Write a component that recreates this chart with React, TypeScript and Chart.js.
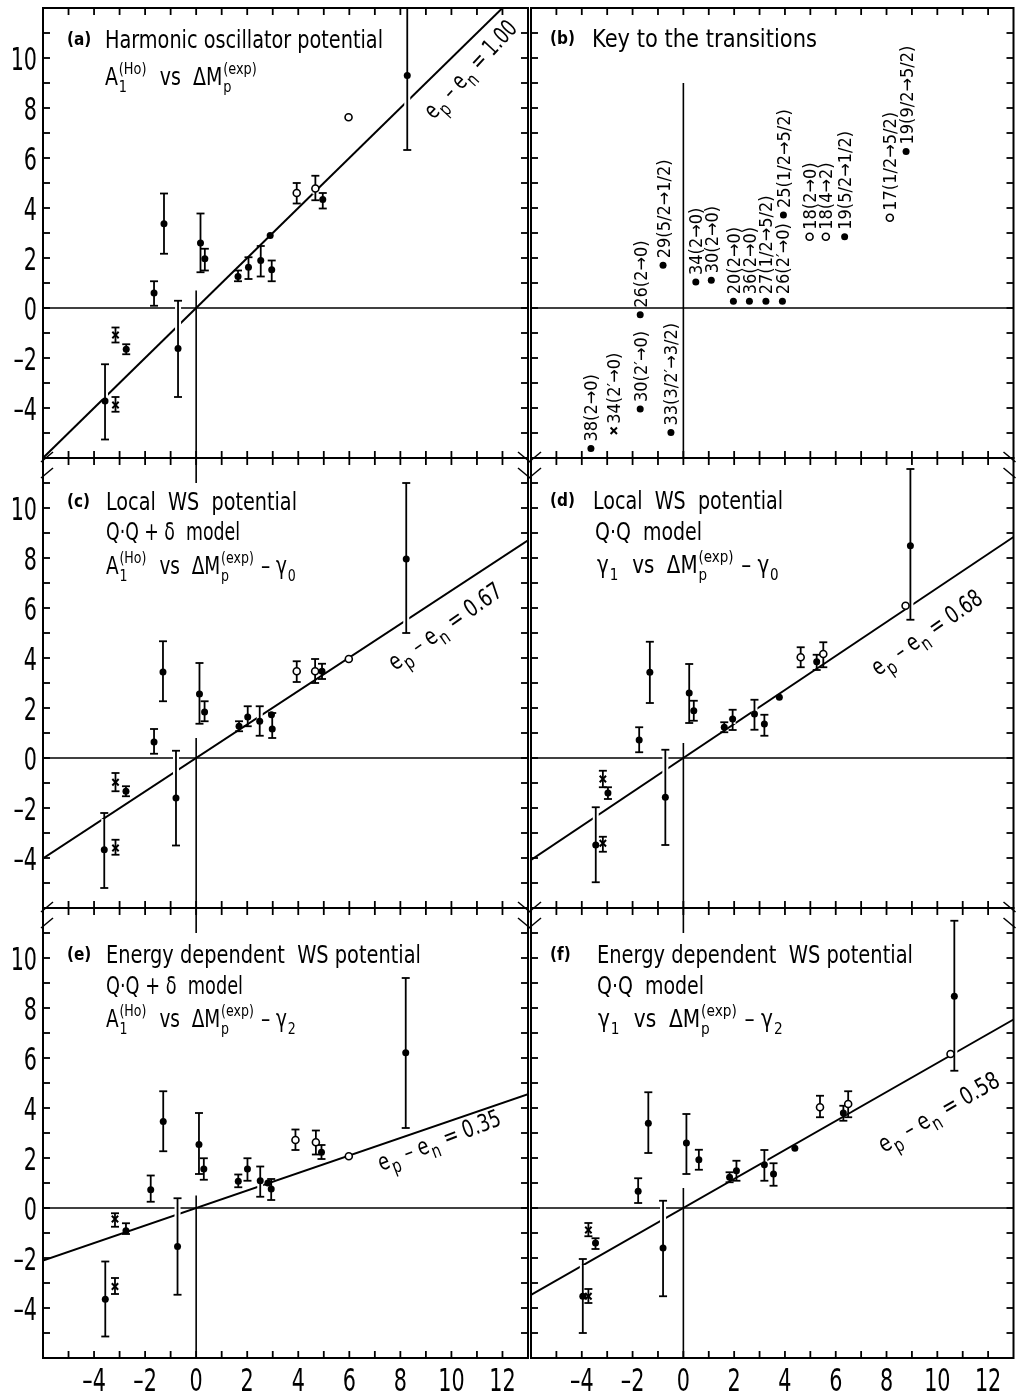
import React, { useEffect, useRef } from "react";
import { Chart, registerables } from "chart.js";

Chart.register(...registerables);

const FONT = "'DejaVu Sans Condensed', 'DejaVu Sans', 'Liberation Sans', sans-serif";

// ---- axes ----
const X_MIN = -6;
const X_MAX = 13;
const Y_MIN = -6;
const Y_MAX = 12;
const xTickValues = [-4, -2, 0, 2, 4, 6, 8, 10, 12];
const xTickLabels = ["–4", "–2", "0", "2", "4", "6", "8", "10", "12"];
const yTickValues = [-4, -2, 0, 2, 4, 6, 8, 10];
const yTickLabels = ["–4", "–2", "0", "2", "4", "6", "8", "10"];

// ---- marker kind of each transition (same order in every data panel) ----
const markerKinds = ["dot", "cross", "cross", "dot", "dot", "dot", "dot", "dot", "dot", "dot", "dot", "dot", "dot", "dot", "open", "open", "dot", "open", "dot"];

// ---- panel (a) ----
const aX = [-3.57, -3.16, -3.16, -2.74, -1.65, -1.26, -0.71, 0.17, 0.34, 1.64, 2.05, 2.53, 2.9, 2.96, 3.94, 4.67, 4.96, 5.97, 8.27];
const aY = [-3.72, -1.08, -3.88, -1.65, 0.6, 3.37, -1.62, 2.6, 1.97, 1.26, 1.63, 1.9, 2.9, 1.53, 4.6, 4.78, 4.34, 7.63, 9.3];
const aLo = [-5.26, -1.38, -4.15, -1.85, 0.09, 2.17, -3.56, 1.43, 1.5, 1.07, 1.16, 1.26, null, 1.07, 4.18, 4.31, 3.98, null, 6.32];
const aHi = [-2.25, -0.78, -3.56, -1.45, 1.07, 4.58, 0.29, 3.78, 2.37, 1.5, 2.03, 2.48, null, 1.9, 5.0, 5.29, 4.6, null, 12.0];

// ---- panel (c) ----
const cX = [-3.6, -3.16, -3.16, -2.75, -1.65, -1.3, -0.79, 0.13, 0.33, 1.68, 2.02, 2.49, 2.95, 2.98, 3.94, 4.66, 4.93, 5.98, 8.23];
const cY = [-3.67, -0.97, -3.6, -1.33, 0.64, 3.44, -1.6, 2.56, 1.84, 1.27, 1.64, 1.47, 1.73, 1.16, 3.47, 3.47, 3.47, 3.96, 7.96];
const cLo = [-5.2, -1.33, -3.87, -1.53, 0.17, 2.27, -3.5, 1.37, 1.47, 1.07, 1.27, 0.89, null, 0.8, 3.04, 3.0, 3.16, null, 5.0];
const cHi = [-2.2, -0.6, -3.27, -1.13, 1.16, 4.67, 0.29, 3.8, 2.27, 1.47, 2.07, 2.07, null, 1.8, 3.87, 3.96, 3.77, null, 11.0];

// ---- panel (d) ----
const dX = [-3.45, -3.17, -3.17, -2.97, -1.74, -1.32, -0.71, 0.23, 0.41, 1.61, 1.94, 2.8, 3.78, 3.19, 4.62, 5.51, 5.25, 8.75, 8.94];
const dY = [-3.48, -0.84, -3.41, -1.4, 0.72, 3.43, -1.57, 2.6, 1.89, 1.23, 1.56, 1.76, 2.43, 1.36, 4.03, 4.16, 3.85, 6.09, 8.49];
const dLo = [-4.97, -1.17, -3.75, -1.64, 0.23, 2.2, -3.48, 1.4, 1.49, 1.03, 1.12, 1.13, null, 0.89, 3.63, 3.63, 3.52, null, 5.53];
const dHi = [-1.97, -0.51, -3.15, -1.17, 1.23, 4.65, 0.33, 3.76, 2.29, 1.43, 1.93, 2.33, null, 1.73, 4.43, 4.63, 4.13, null, 11.56];

// ---- panel (e) ----
const eX = [-3.56, -3.18, -3.18, -2.75, -1.78, -1.29, -0.73, 0.11, 0.3, 1.65, 2.01, 2.51, 2.81, 2.94, 3.89, 4.69, 4.91, 5.98, 8.21];
const eY = [-3.65, -0.44, -3.14, -0.91, 0.73, 3.46, -1.54, 2.54, 1.56, 1.07, 1.56, 1.09, 1.0, 0.76, 2.72, 2.63, 2.23, 2.07, 6.21];
const eLo = [-5.14, -0.75, -3.44, -1.04, 0.25, 2.27, -3.47, 1.36, 1.13, 0.83, 1.09, 0.45, null, 0.32, 2.32, 2.14, 1.96, null, 3.2];
const eHi = [-2.14, -0.21, -2.8, -0.61, 1.3, 4.67, 0.39, 3.8, 1.99, 1.34, 1.99, 1.66, null, 1.16, 3.14, 3.1, 2.52, null, 9.2];

// ---- panel (f) ----
const fX = [-3.96, -3.74, -3.74, -3.46, -1.78, -1.38, -0.8, 0.12, 0.61, 1.82, 2.09, 3.19, 4.39, 3.55, 5.38, 6.49, 6.3, 10.52, 10.67];
const fY = [-3.53, -0.88, -3.53, -1.4, 0.67, 3.39, -1.6, 2.6, 1.93, 1.23, 1.49, 1.73, 2.39, 1.36, 4.03, 4.16, 3.8, 6.16, 8.47];
const fLo = [-5.0, -1.13, -3.8, -1.64, 0.2, 2.2, -3.53, 1.36, 1.53, 1.03, 1.09, 1.09, null, 0.89, 3.63, 3.63, 3.49, null, 5.49];
const fHi = [-2.04, -0.6, -3.24, -1.21, 1.19, 4.63, 0.29, 3.76, 2.33, 1.43, 1.89, 2.32, null, 1.79, 4.49, 4.67, 4.09, null, 11.49];

// ---- fitted lines (e_p - e_n) ----
const fitSlopes = [1.0, 0.67, 0.68, 0.35, 0.58];
const fitTexts = ["1.00", "0.67", "0.68", "0.35", "0.58"];

// ---- panel (b): key to the transitions ----
const keyX = [-3.64, -2.74, -1.7, -1.7, -0.49, -0.8, 0.49, 1.1, 1.97, 2.6, 3.25, 3.9, 3.94, 4.97, 5.61, 6.35, 8.13, 8.77];
const keyY = [-5.62, -4.91, -4.04, -0.27, -4.98, 1.71, 1.04, 1.11, 0.27, 0.27, 0.27, 0.27, 3.72, 2.85, 2.85, 2.85, 3.61, 6.26];
const keyLabels = ["38(2→0)", "34(2′→0)", "30(2′→0)", "26(2→0)", "33(3/2′→3/2)", "29(5/2→1/2)", "34(2→0)", "30(2→0)", "20(2→0)", "36(2→0)", "27(1/2→5/2)", "26(2′→0)", "25(1/2→5/2)", "18(2→0)", "18(4→2)", "19(5/2→1/2)", "17(1/2→5/2)", "19(9/2→5/2)"];
const keyKinds = ["dot", "cross", "dot", "dot", "dot", "dot", "dot", "dot", "dot", "dot", "dot", "dot", "dot", "open", "open", "dot", "open", "dot"];

// ---- rich text ----
type Seg = { t?: string; sub?: string; sup?: string };
const S = (t: string): Seg => ({ t });

function richWidth(ctx: CanvasRenderingContext2D, segs: Seg[], size: number, ss: number) {
  let w = 0;
  for (const s of segs) {
    if (s.t !== undefined) {
      ctx.font = `${size}px ${FONT}`;
      w += ctx.measureText(s.t).width;
    } else {
      ctx.font = `${size * ss}px ${FONT}`;
      const a = s.sub ? ctx.measureText(s.sub).width : 0;
      const b = s.sup ? ctx.measureText(s.sup).width : 0;
      w += Math.max(a, b) + size * 0.1;
    }
  }
  return w;
}

function drawRich(ctx: CanvasRenderingContext2D, segs: Seg[], size: number, x: number, y: number, target?: number, ss = 0.68) {
  const w = richWidth(ctx, segs, size, ss);
  const k = target ? target / w : 1;
  ctx.save();
  ctx.translate(x, y);
  ctx.scale(k, 1);
  ctx.fillStyle = "#000";
  ctx.textAlign = "left";
  ctx.textBaseline = "alphabetic";
  let cx = 0;
  for (const s of segs) {
    if (s.t !== undefined) {
      ctx.font = `${size}px ${FONT}`;
      ctx.fillText(s.t, cx, 0);
      cx += ctx.measureText(s.t).width;
    } else {
      ctx.font = `${size * ss}px ${FONT}`;
      let sw = 0;
      if (s.sub) {
        ctx.fillText(s.sub, cx + size * 0.04, size * 0.3);
        sw = Math.max(sw, ctx.measureText(s.sub).width);
      }
      if (s.sup) {
        ctx.fillText(s.sup, cx + size * 0.04, -size * 0.45);
        sw = Math.max(sw, ctx.measureText(s.sup).width);
      }
      cx += sw + size * 0.1;
    }
  }
  ctx.restore();
}

const fitSeg = (v: string): Seg[] => [S("e"), { sub: "p" }, S(" – e"), { sub: "n" }, S(" = " + v)];
const lineA1Ho: Seg[] = [S("A"), { sub: "1", sup: "(Ho)" }, S("  vs  ΔM"), { sub: "p", sup: "(exp)" }];

// ---- layout ----
const FRAME_L = [43, 531];
const FRAME_R = [528, 1019];
const FRAME_T = [8, 458, 908];
const FRAME_B = [458, 908, 1358];
const W = 1020;
const H = 1395;
const TICK_FONT = 32;
const TICK_SQUEEZE = 0.72;

type Panel = {
  id: string;
  col: number;
  row: number;
  X: number[];
  Y: number[];
  lo?: (number | null)[];
  hi?: (number | null)[];
  kinds: string[];
  fit?: number;
  fitPos?: [number, number];
  fitAngle?: number;
  fitLen?: number;
  keyText?: string[];
  tag: string;
  lines: Seg[][];
  lineX: number[];
  lineBase: number[];
  lineW: number[];
  zeroTop: number;
  topZeroTick: boolean;
};

const PANELS: Panel[] = [
  {
    id: "a", col: 0, row: 0, X: aX, Y: aY, lo: aLo, hi: aHi, kinds: markerKinds,
    fit: 0, fitPos: [9.31, 7.52], fitAngle: -47, fitLen: 124,
    tag: "(a)",
    lines: [[S("Harmonic oscillator potential")], lineA1Ho],
    lineX: [62, 62], lineBase: [40, 77], lineW: [278, 153],
    zeroTop: 0.7, topZeroTick: false,
  },
  {
    id: "b", col: 1, row: 0, X: keyX, Y: keyY, kinds: keyKinds, keyText: keyLabels,
    tag: "(b)",
    lines: [[S("Key to the transitions")]],
    lineX: [61], lineBase: [39], lineW: [225],
    zeroTop: 9, topZeroTick: false,
  },
  {
    id: "c", col: 0, row: 1, X: cX, Y: cY, lo: cLo, hi: cHi, kinds: markerKinds,
    fit: 1, fitPos: [7.79, 3.48], fitAngle: -35, fitLen: 133,
    tag: "(c)",
    lines: [[S("Local  WS  potential")], [S("Q·Q + δ  model")], [...lineA1Ho, S(" – γ"), { sub: "0" }]],
    lineX: [63, 63, 63], lineBase: [52, 82, 116], lineW: [191, 134, 191],
    zeroTop: 0.8, topZeroTick: true,
  },
  {
    id: "d", col: 1, row: 1, X: dX, Y: dY, lo: dLo, hi: dHi, kinds: markerKinds,
    fit: 2, fitPos: [7.66, 3.27], fitAngle: -35, fitLen: 130,
    tag: "(d)",
    lines: [[S("Local  WS  potential")], [S("Q·Q  model")], [S("γ"), { sub: "1" }, S("  vs  ΔM"), { sub: "p", sup: "(exp)" }, S(" – γ"), { sub: "0" }]],
    lineX: [62, 64, 66], lineBase: [51, 82, 115], lineW: [190, 107, 183],
    zeroTop: 0.6, topZeroTick: false,
  },
  {
    id: "e", col: 0, row: 2, X: eX, Y: eY, lo: eLo, hi: eHi, kinds: markerKinds,
    fit: 3, fitPos: [7.25, 1.48], fitAngle: -21, fitLen: 130,
    tag: "(e)",
    lines: [[S("Energy dependent  WS potential")], [S("Q·Q + δ  model")], [...lineA1Ho, S(" – γ"), { sub: "2" }]],
    lineX: [63, 63, 63], lineBase: [55, 86, 119], lineW: [315, 137, 191],
    zeroTop: 0.5, topZeroTick: true,
  },
  {
    id: "f", col: 1, row: 2, X: fX, Y: fY, lo: fLo, hi: fHi, kinds: markerKinds,
    fit: 4, fitPos: [7.89, 2.2], fitAngle: -30, fitLen: 136,
    tag: "(f)",
    lines: [[S("Energy dependent  WS potential")], [S("Q·Q  model")], [S("γ"), { sub: "1" }, S("  vs  ΔM"), { sub: "p", sup: "(exp)" }, S(" – γ"), { sub: "2" }]],
    lineX: [66, 66, 67], lineBase: [55, 86, 119], lineW: [316, 107, 186],
    zeroTop: 0.8, topZeroTick: true,
  },
];

function makeDecor(p: Panel, lineIndex: number) {
  const seg = (ctx: CanvasRenderingContext2D, x1: number, y1: number, x2: number, y2: number) => {
    ctx.beginPath();
    ctx.moveTo(x1, y1);
    ctx.lineTo(x2, y2);
    ctx.stroke();
  };
  const drawBars = (chart: any) => {
    if (!p.lo || !p.hi) return;
    const { ctx } = chart;
    const xs = chart.scales.x;
    const ys = chart.scales.y;
    ctx.save();
    for (const pass of [0, 1]) {
      ctx.strokeStyle = pass === 0 ? "#fff" : "#000";
      ctx.lineWidth = pass === 0 ? 6 : 1.8;
      for (let i = 0; i < p.X.length; i++) {
        const lo = p.lo[i];
        const hi = p.hi[i];
        if (lo == null || hi == null) continue;
        const px = xs.getPixelForValue(p.X[i]);
        const pl = ys.getPixelForValue(Math.max(lo, Y_MIN));
        const ph = ys.getPixelForValue(Math.min(hi, Y_MAX));
        if (pass === 0) {
          seg(ctx, px, pl - 6, px, ph + 6);
        } else {
          seg(ctx, px, pl, px, ph);
          seg(ctx, px - 4, pl, px + 4, pl);
          if (hi < Y_MAX) seg(ctx, px - 4, ph, px + 4, ph);
        }
      }
    }
    ctx.restore();
  };
  return {
    id: "decor" + p.id,
    beforeDatasetsDraw(chart: any) {
      const { ctx, chartArea: ca } = chart;
      const xs = chart.scales.x;
      const ys = chart.scales.y;
      ctx.save();
      ctx.strokeStyle = "#000";
      ctx.lineWidth = 1.6;
      const x0 = xs.getPixelForValue(0);
      const y0 = ys.getPixelForValue(0);
      seg(ctx, ca.left, y0, ca.right, y0);
      seg(ctx, x0, ca.bottom, x0, ys.getPixelForValue(p.zeroTop));
      if (p.topZeroTick) seg(ctx, x0, ca.top, x0, ys.getPixelForValue(Y_MAX - 1));
      ctx.restore();
      if (lineIndex < 0) drawBars(chart);
    },
    afterDatasetDraw(chart: any, args: any) {
      if (args.index === lineIndex) drawBars(chart);
    },
    afterDatasetsDraw(chart: any) {
      const { ctx, chartArea: ca } = chart;
      const xs = chart.scales.x;
      const ys = chart.scales.y;
      ctx.save();
      ctx.strokeStyle = "#000";
      ctx.lineWidth = 2;
      ctx.strokeRect(ca.left, ca.top, ca.right - ca.left, ca.bottom - ca.top);
      ctx.lineWidth = 1.8;
      for (let v = X_MIN + 1; v < X_MAX; v++) {
        const px = xs.getPixelForValue(v);
        seg(ctx, px, ca.bottom, px, ca.bottom - 7);
        seg(ctx, px, ca.top, px, ca.top + 7);
      }
      for (let v = Y_MIN + 1; v < Y_MAX; v++) {
        const py = ys.getPixelForValue(v);
        seg(ctx, ca.left, py, ca.left + 7, py);
        seg(ctx, ca.right, py, ca.right - 7, py);
      }
      // break marks between stacked panels
      if (p.row > 0) {
        ctx.lineWidth = 1.5;
        for (const ex of [ca.left, ca.right]) {
          const dir = ex === ca.left ? 1 : -1;
          seg(ctx, ex - 2 * dir, ca.top + 4, ex + 10 * dir, ca.top - 6);
          seg(ctx, ex - 2 * dir, ca.top + 20, ex + 10 * dir, ca.top + 10);
        }
      }
      // tick labels
      ctx.fillStyle = "#000";
      ctx.font = `${TICK_FONT}px ${FONT}`;
      if (p.col === 0) {
        ys.ticks.forEach((t: any) => {
          const i = yTickValues.indexOf(t.value);
          if (i < 0) return;
          ctx.save();
          ctx.translate(ca.left - 6, ys.getPixelForValue(t.value) + TICK_FONT * 0.36);
          ctx.scale(TICK_SQUEEZE, 1);
          ctx.textAlign = "right";
          ctx.textBaseline = "alphabetic";
          ctx.fillText(yTickLabels[i], 0, 0);
          ctx.restore();
        });
      }
      if (p.row === 2) {
        xs.ticks.forEach((t: any) => {
          const i = xTickValues.indexOf(t.value);
          if (i < 0) return;
          ctx.save();
          ctx.translate(xs.getPixelForValue(t.value), ca.bottom + 33);
          ctx.scale(TICK_SQUEEZE, 1);
          ctx.textAlign = "center";
          ctx.textBaseline = "alphabetic";
          ctx.fillText(xTickLabels[i], 0, 0);
          ctx.restore();
        });
      }
      // title
      ctx.textAlign = "left";
      ctx.textBaseline = "alphabetic";
      ctx.font = `bold 17px ${FONT}`;
      ctx.fillText(p.tag, ca.left + (p.col === 0 ? 24 : 19), ca.top + p.lineBase[0] - 3);
      p.lines.forEach((ln, i) => {
        drawRich(ctx, ln, 24, ca.left + p.lineX[i], ca.top + p.lineBase[i], p.lineW[i]);
      });
      // fit label
      if (p.fit !== undefined && p.fitPos) {
        ctx.save();
        ctx.translate(xs.getPixelForValue(p.fitPos[0]), ys.getPixelForValue(p.fitPos[1]));
        ctx.rotate(((p.fitAngle || 0) * Math.PI) / 180);
        drawRich(ctx, fitSeg(fitTexts[p.fit]), 24, 0, 0, p.fitLen, 0.8);
        ctx.restore();
      }
      // key labels
      if (p.keyText) {
        ctx.font = `18px ${FONT}`;
        ctx.fillStyle = "#000";
        p.keyText.forEach((txt, i) => {
          const px = xs.getPixelForValue(p.X[i]);
          const py = ys.getPixelForValue(p.Y[i]);
          ctx.save();
          ctx.translate(px, py - 7);
          ctx.rotate(-Math.PI / 2);
          ctx.textAlign = "left";
          ctx.textBaseline = "alphabetic";
          ctx.fillText(txt, 0, 6.5);
          ctx.restore();
        });
      }
      ctx.restore();
    },
  };
}

function makeChart(canvas: HTMLCanvasElement, p: Panel) {
  const left = FRAME_L[p.col];
  const right = FRAME_R[p.col];
  const top = FRAME_T[p.row];
  const bottom = FRAME_B[p.row];
  const showY = p.col === 0;
  const showX = p.row === 2;
  const Y_AXIS_W = 43;
  const X_AXIS_H = 37;

  const styles: Record<string, any> = {
    dot: { pointStyle: "circle", pointRadius: 3.5, pointBackgroundColor: "#000", pointBorderColor: "#000", pointBorderWidth: 0 },
    open: { pointStyle: "circle", pointRadius: 3.5, pointBackgroundColor: "#fff", pointBorderColor: "#000", pointBorderWidth: 1.6 },
    cross: { pointStyle: "crossRot", pointRadius: 4.5, pointBackgroundColor: "#000", pointBorderColor: "#000", pointBorderWidth: 2 },
  };
  const datasets: any[] = ["dot", "open", "cross"].map((k) => ({
    label: k,
    data: p.X.map((x, i) => ({ x, y: p.Y[i], k: p.kinds[i] })).filter((d) => d.k === k).map((d) => ({ x: d.x, y: d.y })),
    showLine: false,
    ...styles[k],
  }));
  let lineIndex = -1;
  if (p.fit !== undefined) {
    const s = fitSlopes[p.fit];
    datasets.push({
      label: "fit",
      data: [
        { x: X_MIN, y: X_MIN * s },
        { x: X_MAX, y: X_MAX * s },
      ],
      showLine: true,
      borderColor: "#000",
      borderWidth: 2,
      pointRadius: 0,
    });
    lineIndex = datasets.length - 1;
  }

  const tickFont = { family: FONT, size: TICK_FONT };
  return new Chart(canvas, {
    type: "scatter",
    data: { datasets },
    plugins: [makeDecor(p, lineIndex)],
    options: {
      animation: false,
      responsive: false,
      events: [],
      layout: {
        padding: {
          left: showY ? left - Y_AXIS_W : left,
          right: W - right,
          top,
          bottom: H - bottom - (showX ? X_AXIS_H : 0),
        },
      },
      plugins: { legend: { display: false }, tooltip: { enabled: false } },
      scales: {
        x: {
          type: "linear",
          min: X_MIN,
          max: X_MAX,
          display: showX,
          grid: { display: false, drawTicks: false },
          border: { display: false },
          ticks: {
            font: tickFont,
            color: "rgba(0,0,0,0)",
            padding: 3,
            maxRotation: 0,
            autoSkip: false,
            callback: (v: any) => {
              const i = xTickValues.indexOf(Number(v));
              return i >= 0 ? xTickLabels[i] : "";
            },
          },
          afterBuildTicks: (s: any) => {
            s.ticks = xTickValues.map((v) => ({ value: v }));
          },
          afterFit: (s: any) => {
            if (showX) s.height = X_AXIS_H;
            s.paddingLeft = 0;
            s.paddingRight = 0;
          },
        },
        y: {
          type: "linear",
          min: Y_MIN,
          max: Y_MAX,
          display: showY,
          grid: { display: false, drawTicks: false },
          border: { display: false },
          ticks: {
            font: tickFont,
            color: "rgba(0,0,0,0)",
            padding: 6,
            autoSkip: false,
            callback: (v: any) => {
              const i = yTickValues.indexOf(Number(v));
              return i >= 0 ? yTickLabels[i] : "";
            },
          },
          afterBuildTicks: (s: any) => {
            s.ticks = yTickValues.map((v) => ({ value: v }));
          },
          afterFit: (s: any) => {
            if (showY) s.width = Y_AXIS_W;
            s.paddingTop = 0;
            s.paddingBottom = 0;
          },
        },
      },
    } as any,
  });
}

export default function App() {
  const refs = useRef<(HTMLCanvasElement | null)[]>([]);
  useEffect(() => {
    const charts = PANELS.map((p, i) => makeChart(refs.current[i] as HTMLCanvasElement, p));
    return () => charts.forEach((c) => c.destroy());
  }, []);
  return (
    <div style={{ position: "absolute", left: 0, top: 0, width: W, height: H, background: "#fff" }}>
      {PANELS.map((p, i) => (
        <canvas
          key={p.id}
          ref={(el) => {
            refs.current[i] = el;
          }}
          width={W}
          height={H}
          style={{ position: "absolute", left: 0, top: 0, width: W, height: H }}
        />
      ))}
    </div>
  );
}
